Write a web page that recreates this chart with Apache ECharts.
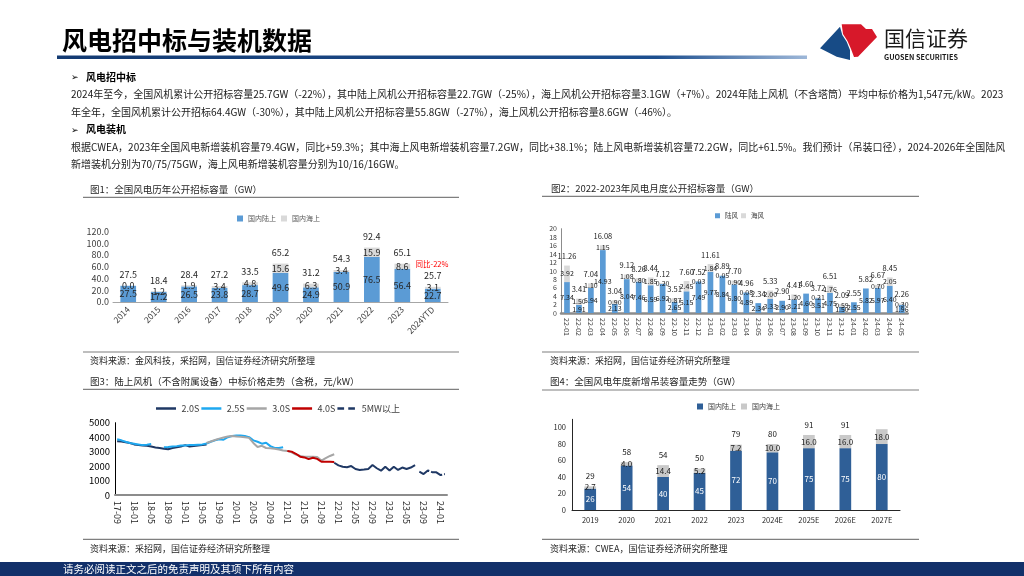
<!DOCTYPE html>
<html><head><meta charset="utf-8">
<script src="https://cdn.jsdelivr.net/npm/echarts@6/dist/echarts.min.js"></script>
<style>html,body{margin:0;padding:0;background:#fff}#c{width:1024px;height:576px}</style>
</head><body><div id="c"></div>
<script>
const FONT = '"Noto Sans CJK SC","Noto Sans","DejaVu Sans",sans-serif';

// ---------- Chart 1: annual public tender volume (GW)
const c1Years = ['2014','2015','2016','2017','2018','2019','2020','2021','2022','2023','2024YTD'];
const c1Onshore = [27.5,17.2,26.5,23.8,28.7,49.6,24.9,50.9,76.5,56.4,22.7];
const c1Offshore = [0.0,1.2,1.9,3.4,4.8,15.6,6.3,3.4,15.9,8.6,3.1];
const c1Total = [27.5,18.4,28.4,27.2,33.5,65.2,31.2,54.3,92.4,65.1,25.7];

// ---------- Chart 2: monthly public tender volume (GW)
const c2Months = ['22-01','22-02','22-03','22-04','22-05','22-06','22-07','22-08','22-09','22-10','22-11','22-12',
  '23-01','23-02','23-03','23-04','23-05','23-06','23-07','23-08','23-09','23-10','23-11','23-12',
  '24-01','24-02','24-03','24-04','24-05'];
const c2Onshore = [7.34,1.91,5.94,14.93,2.13,8.04,7.46,6.59,6.92,2.65,5.15,7.49,
  9.77,8.84,6.80,4.89,2.34,3.33,2.90,3.21,4.60,3.51,4.75,1.50,
  2.55,5.82,5.97,6.40,1.96];
const c2Offshore = [3.92,1.50,1.10,1.15,0.90,1.08,0.80,1.85,0.20,0.87,2.45,0.03,
  1.84,0.05,0.90,0.08,null,2.00,null,1.20,null,0.21,1.76,0.59,
  null,null,0.70,2.05,0.30];
const c2Total = [11.26,3.41,7.04,16.08,3.04,9.12,8.26,8.44,7.12,3.51,7.60,7.52,
  11.61,8.89,7.70,4.96,2.34,5.33,2.90,4.41,4.60,3.72,6.51,2.09,
  2.55,5.82,6.67,8.45,2.26];

// ---------- Chart 3: onshore turbine winning bid price (yuan/kW)
const c3Months = ['17-09','17-10','17-11','17-12',
  '18-01','18-02','18-03','18-04','18-05','18-06','18-07','18-08','18-09','18-10','18-11','18-12',
  '19-01','19-02','19-03','19-04','19-05','19-06','19-07','19-08','19-09','19-10','19-11','19-12',
  '20-01','20-02','20-03','20-04','20-05','20-06','20-07','20-08','20-09','20-10','20-11','20-12',
  '21-01','21-02','21-03','21-04','21-05','21-06','21-07','21-08','21-09','21-10','21-11','21-12',
  '22-01','22-02','22-03','22-04','22-05','22-06','22-07','22-08','22-09','22-10','22-11','22-12',
  '23-01','23-02','23-03','23-04','23-05','23-06','23-07','23-08','23-09','23-10','23-11','23-12',
  '24-01','24-02'];
const c3S20 = [3720,3700,3640,3600,3500,3450,3420,3400,3350,3280,3250,3200,3170,3250,3300,3350,
  3450,3350,3380,3420,3450,3500,null,null,null,null,null,null,
  null,null,null,null,null,null,null,null,null,null,null,null,
  null,null,null,null,null,null,null,null,null,null,null,2230,
  2050,1950,1920,2000,1800,1730,1760,1800,2070,1850,1680,1950,
  1690,1950,1730,1900,1800,1900,2070,null,null,null,null,null,
  null,null];
const c3S25 = [3850,3780,3680,3600,3550,3500,3450,3480,3520,null,null,3300,3320,3350,3380,3420,
  3420,3450,3460,3480,3500,3560,3680,3780,3850,3820,4000,4080,
  4120,4120,4080,4000,3780,3680,3550,3620,3380,3250,3250,3300,
  null,null,null,null,null,null,null,null,null,null,null,null,
  null,null,null,null,null,null,null,null,null,null,null,null,
  null,null,null,null,null,null,null,null,null,null,null,null,
  null,null];
const c3S30 = [null,null,null,null,null,null,null,null,null,null,null,null,null,null,null,null,
  null,null,null,null,null,3600,3700,3800,3900,3980,4050,4080,
  4050,4020,4000,3950,3600,3320,3400,3250,3230,3200,3150,3080,
  3050,2950,2800,2700,2650,2650,2650,2620,2380,2550,2700,2820,
  null,null,null,null,null,null,null,null,null,null,null,null,
  null,null,null,null,null,null,null,null,null,null,null,null,
  null,null];
const c3S40 = [null,null,null,null,null,null,null,null,null,null,null,null,null,null,null,null,
  null,null,null,null,null,null,null,null,null,null,null,null,
  null,null,null,null,null,null,null,null,null,null,null,null,
  3050,3000,2850,2650,2600,2480,2580,2500,2300,2300,2300,2280,
  null,null,null,null,null,null,null,null,null,null,null,null,
  null,null,null,null,null,null,null,null,null,null,null,null,
  null,null];
const c3S5MW = [null,null,null,null,null,null,null,null,null,null,null,null,null,null,null,null,
  null,null,null,null,null,null,null,null,null,null,null,null,
  null,null,null,null,null,null,null,null,null,null,null,null,
  null,null,null,null,null,null,null,null,null,null,null,null,
  null,null,null,null,null,null,null,null,null,null,null,null,
  null,null,null,null,null,null,null,1620,1450,1700,1580,1570,
  1380,1450];

// ---------- Chart 4: annual new installed capacity (GW)
const c4Years = ['2019','2020','2021','2022','2023','2024E','2025E','2026E','2027E'];
const c4Onshore = [26,54,40,45,72,70,75,75,80];
const c4Offshore = [2.7,4.0,14.4,5.2,7.2,10.0,16.0,16.0,18.0];
const c4Total = [29,58,54,50,79,80,91,91,null];

const legendNames = {c1on:'国内陆上', c1off:'国内海上', c2on:'陆风', c2off:'海风', c4on:'国内陆上', c4off:'国内海上'};

function txt(x, y, text, size, opts) {
  opts = opts || {};
  return {type:'text', x:x, y:y, z:100, silent:true, style:{
    text:text, fill:opts.color || '#262626',
    font:(opts.bold ? 'bold ' : '') + size + 'px ' + FONT,
    align:opts.align || 'left', verticalAlign:'middle',
    textAlign:opts.align || 'left', textVerticalAlign:'middle'}};
}
function hline(x1, x2, y, color, w) {
  return {type:'line', z:100, silent:true, shape:{x1:x1, y1:y, x2:x2, y2:y}, style:{stroke:color, lineWidth:w}};
}

const graphics = [
  txt(62, 40, '风电招中标与装机数据', 25, {bold:true, color:'#000'}),
  {type:'rect', z:100, shape:{x:57, y:55.5, width:750, height:3.5}, style:{
    fill:{type:'linear', x:0, y:0, x2:1, y2:0, colorStops:[
      {offset:0, color:'#133a72'},{offset:0.8, color:'#1d4f8f'},{offset:1, color:'#9db7d8'}]}}},
  // logo
  {type:'polygon', z:100, shape:{points:[[820,48.3],[840,26.7],[842.3,35],[846.7,41.7],[850,50],[850,60],[836.7,56.7]]}, style:{fill:'#174b86'}},
  {type:'polygon', z:100, shape:{points:[[841.7,24.3],[861,24.3],[866,29],[872,29],[877,37],[858,56.7],[854,57],[851,49],[847.5,41],[843,34]]}, style:{fill:'#d7182a'}},
  txt(884, 38, '国信证券', 21, {color:'#1a1a1a'}),
  txt(884, 57, 'GUOSEN SECURITIES', 7.2, {color:'#1a1a1a', bold:true}),

  txt(71, 77, '➢', 9, {color:'#000'}),
  txt(86, 77, '风电招中标', 10, {bold:true, color:'#000'}),
  txt(71, 94.5, '2024年至今，全国风机累计公开招标容量25.7GW（-22%），其中陆上风机公开招标容量22.7GW（-25%），海上风机公开招标容量3.1GW（+7%）。2024年陆上风机（不含塔筒）平均中标价格为1,547元/kW。2023', 10, {color:'#1a1a1a'}),
  txt(71, 112.5, '年全年，全国风机累计公开招标64.4GW（-30%），其中陆上风机公开招标容量55.8GW（-27%），海上风机公开招标容量8.6GW（-46%）。', 10, {color:'#1a1a1a'}),
  txt(71, 129.5, '➢', 9, {color:'#000'}),
  txt(86, 129.5, '风电装机', 10, {bold:true, color:'#000'}),
  txt(71, 147.3, '根据CWEA，2023年全国风电新增装机容量79.4GW，同比+59.3%；其中海上风电新增装机容量7.2GW，同比+38.1%；陆上风电新增装机容量72.2GW，同比+61.5%。我们预计（吊装口径），2024-2026年全国陆风', 10, {color:'#1a1a1a'}),
  txt(71, 164.5, '新增装机分别为70/75/75GW，海上风电新增装机容量分别为10/16/16GW。', 10, {color:'#1a1a1a'}),

  // panel 1
  txt(90, 189.7, '图1：全国风电历年公开招标容量（GW）', 9.5),
  hline(83, 459, 197.3, '#7f7f7f', 1.2),
  hline(83, 459, 352, '#7f7f7f', 1.2),
  txt(90, 360.7, '资料来源：金风科技，采招网，国信证券经济研究所整理', 9),
  txt(432, 263.7, '同比-22%', 7.5, {color:'#ff0000', align:'center'}),
  // panel 2
  txt(551, 188.5, '图2：2022-2023年风电月度公开招标容量（GW）', 9.5),
  hline(542, 919, 196.3, '#7f7f7f', 1.2),
  hline(542, 919, 352, '#7f7f7f', 1.2),
  txt(550, 360.7, '资料来源：采招网，国信证券经济研究所整理', 9),
  // panel 3
  txt(90, 381.7, '图3：陆上风机（不含附属设备）中标价格走势（含税，元/kW）', 9.5),
  hline(83, 459, 389.3, '#7f7f7f', 1.2),
  hline(83, 459, 539.3, '#7f7f7f', 1.2),
  txt(90, 548.3, '资料来源：采招网，国信证券经济研究所整理', 9),
  // panel 4
  txt(550, 381.7, '图4：全国风电年度新增吊装容量走势（GW）', 9.5),
  hline(542, 919, 390, '#7f7f7f', 1.2),
  hline(542, 919, 539.3, '#7f7f7f', 1.2),
  txt(550, 548.3, '资料来源：CWEA，国信证券经济研究所整理', 9),
  // footer
  {type:'rect', z:100, shape:{x:0, y:562, width:1024, height:14}, style:{fill:'#12306a'}},
  txt(63, 569, '请务必阅读正文之后的免责声明及其项下所有内容', 10.5, {color:'#ffffff'})
];

const axisLabelBase = {fontFamily: FONT, color:'#404040'};
const hiddenPoint = {symbol:'circle', symbolSize:1, itemStyle:{color:'rgba(0,0,0,0)'}, lineStyle:{width:0, opacity:0}, silent:true, z:5};
const solidIcon = 'path://M0 0H24V3H0Z';
const dashIcon = 'path://M0 0H8V3H0Z M13 0H21V3H13Z';

const option = {
  animation:false,
  textStyle:{fontFamily:FONT},
  graphic:graphics,
  legend:[
    {left:232, top:210, itemWidth:6, itemHeight:6, itemGap:5, icon:'rect', data:['c1on','c1off'],
      formatter:n=>legendNames[n], textStyle:{fontSize:7, color:'#595959', fontFamily:FONT}},
    {left:710, top:207.5, itemWidth:5, itemHeight:5, itemGap:3, icon:'rect', data:['c2on','c2off'],
      formatter:n=>legendNames[n], textStyle:{fontSize:6.5, color:'#404040', fontFamily:FONT}},
    {left:151, top:399, itemWidth:21, itemHeight:2.5, itemGap:2,
      data:[{name:'2.0S', icon:solidIcon},{name:'2.5S', icon:solidIcon},{name:'3.0S', icon:solidIcon},
            {name:'4.0S', icon:solidIcon},{name:'5MW以上', icon:dashIcon}],
      textStyle:{fontSize:9, color:'#404040', fontFamily:FONT}},
    {left:692, top:398, itemWidth:6, itemHeight:6, itemGap:5, icon:'rect', data:['c4on','c4off'],
      formatter:n=>legendNames[n], textStyle:{fontSize:7, color:'#404040', fontFamily:FONT}}
  ],
  grid:[
    {left:113, top:231.3, width:335, height:70.7},
    {left:561, top:228.7, width:346.7, height:84.3},
    {left:115, top:422.7, width:332, height:72.3},
    {left:572, top:419.3, width:328, height:90.7}
  ],
  xAxis:[
    {gridIndex:0, type:'category', data:c1Years, axisTick:{show:false},
      axisLine:{lineStyle:{color:'#a6a6a6', width:1}},
      axisLabel:Object.assign({}, axisLabelBase, {fontSize:8.5, rotate:45, interval:0, margin:6})},
    {gridIndex:1, type:'category', data:c2Months, axisTick:{show:false},
      axisLine:{lineStyle:{color:'#8c8c8c', width:2.5}},
      axisLabel:Object.assign({}, axisLabelBase, {fontSize:7, rotate:-90, interval:0, margin:5})},
    {gridIndex:2, type:'category', data:c3Months, axisTick:{show:false},
      axisLine:{lineStyle:{color:'#8c8c8c', width:2}},
      axisLabel:Object.assign({}, axisLabelBase, {fontSize:9, rotate:-90, interval:3, margin:6, color:'#262626'})},
    {gridIndex:3, type:'category', data:c4Years, axisTick:{show:false},
      axisLine:{lineStyle:{color:'#262626', width:1}},
      axisLabel:Object.assign({}, axisLabelBase, {fontSize:7.5, margin:6, color:'#262626'})}
  ],
  yAxis:[
    {gridIndex:0, type:'value', min:0, max:120, interval:20, splitLine:{show:false},
      axisLine:{show:false}, axisTick:{show:false},
      axisLabel:Object.assign({}, axisLabelBase, {fontSize:9, margin:4, formatter:v=>v.toFixed(1)})},
    {gridIndex:1, type:'value', min:0, max:20, interval:2, splitLine:{show:false},
      axisLine:{show:true, lineStyle:{color:'#8c8c8c'}}, axisTick:{show:false},
      axisLabel:Object.assign({}, axisLabelBase, {fontSize:7, margin:4})},
    {gridIndex:2, type:'value', min:0, max:5000, interval:1000, splitLine:{show:false},
      axisLine:{show:true, lineStyle:{color:'#000', width:1}}, axisTick:{show:false},
      axisLabel:Object.assign({}, axisLabelBase, {fontSize:9.5, margin:5, color:'#000', formatter:v=>String(v)})},
    {gridIndex:3, type:'value', min:0, max:110, interval:20, splitLine:{show:false},
      axisLine:{show:true, lineStyle:{color:'#262626', width:1}}, axisTick:{show:false},
      axisLabel:Object.assign({}, axisLabelBase, {fontSize:7.5, margin:6, color:'#262626', showMaxLabel:false})}
  ],
  series:[
    // chart 1
    {name:'c1on', type:'bar', xAxisIndex:0, yAxisIndex:0, stack:'s1', barWidth:15.7, data:c1Onshore,
      itemStyle:{color:'#5b9bd5'},
      label:{show:true, position:'inside', fontSize:9, color:'#262626', formatter:p=>p.value.toFixed(1)}},
    {name:'c1off', type:'bar', xAxisIndex:0, yAxisIndex:0, stack:'s1', barWidth:15.7, data:c1Offshore,
      itemStyle:{color:'#d9d9d9'},
      label:{show:true, position:'inside', fontSize:9, color:'#262626', formatter:p=>p.value.toFixed(1)}},
    Object.assign({name:'c1total', type:'line', xAxisIndex:0, yAxisIndex:0, data:c1Total,
      label:{show:true, position:'top', distance:6, fontSize:9, color:'#262626', formatter:p=>p.value.toFixed(1)}}, hiddenPoint),
    // chart 2
    {name:'c2on', type:'bar', xAxisIndex:1, yAxisIndex:1, stack:'s2', barWidth:5.7, data:c2Onshore,
      itemStyle:{color:'#5b9bd5'},
      label:{show:true, position:'inside', fontSize:7, color:'#1a1a1a', formatter:p=>p.value.toFixed(2)}},
    {name:'c2off', type:'bar', xAxisIndex:1, yAxisIndex:1, stack:'s2', barWidth:5.7, data:c2Offshore,
      itemStyle:{color:'#d9d9d9'},
      label:{show:true, position:'inside', fontSize:7, color:'#1a1a1a', formatter:p=>p.value==null?'':p.value.toFixed(2)}},
    Object.assign({name:'c2total', type:'line', xAxisIndex:1, yAxisIndex:1, data:c2Total,
      label:{show:true, position:'top', distance:5, fontSize:7.5, color:'#1a1a1a', formatter:p=>p.value.toFixed(2)}}, hiddenPoint),
    // chart 3
    {name:'2.0S', type:'line', xAxisIndex:2, yAxisIndex:2, data:c3S20, symbol:'none', connectNulls:false,
      itemStyle:{color:'#1f3864'}, lineStyle:{color:'#1f3864', width:2}},
    {name:'2.5S', type:'line', xAxisIndex:2, yAxisIndex:2, data:c3S25, symbol:'none',
      itemStyle:{color:'#1ea8f0'}, lineStyle:{color:'#1ea8f0', width:2}},
    {name:'3.0S', type:'line', xAxisIndex:2, yAxisIndex:2, data:c3S30, symbol:'none',
      itemStyle:{color:'#a6a6a6'}, lineStyle:{color:'#a6a6a6', width:2}},
    {name:'4.0S', type:'line', xAxisIndex:2, yAxisIndex:2, data:c3S40, symbol:'none',
      itemStyle:{color:'#c00000'}, lineStyle:{color:'#c00000', width:2}},
    {name:'5MW以上', type:'line', xAxisIndex:2, yAxisIndex:2, data:c3S5MW, symbol:'none',
      itemStyle:{color:'#1f3864'}, lineStyle:{color:'#1f3864', width:2, type:[12,2]}},
    // chart 4
    {name:'c4on', type:'bar', xAxisIndex:3, yAxisIndex:3, stack:'s4', barWidth:11.7, data:c4Onshore,
      itemStyle:{color:'#2f5f97'},
      label:{show:true, position:'inside', fontSize:8, color:'#ffffff', formatter:p=>String(p.value)}},
    {name:'c4off', type:'bar', xAxisIndex:3, yAxisIndex:3, stack:'s4', barWidth:11.7, data:c4Offshore,
      itemStyle:{color:'#c9c9c9'},
      label:{show:true, position:'inside', fontSize:8, color:'#1a1a1a', formatter:p=>p.value.toFixed(1)}},
    Object.assign({name:'c4total', type:'line', xAxisIndex:3, yAxisIndex:3, data:c4Total,
      label:{show:true, position:'top', distance:6, fontSize:8, color:'#1a1a1a', formatter:p=>String(p.value)}}, hiddenPoint)
  ]
};

const chart = echarts.init(document.getElementById('c'), null, {renderer:'canvas'});
chart.setOption(option);
</script>
</body></html>
